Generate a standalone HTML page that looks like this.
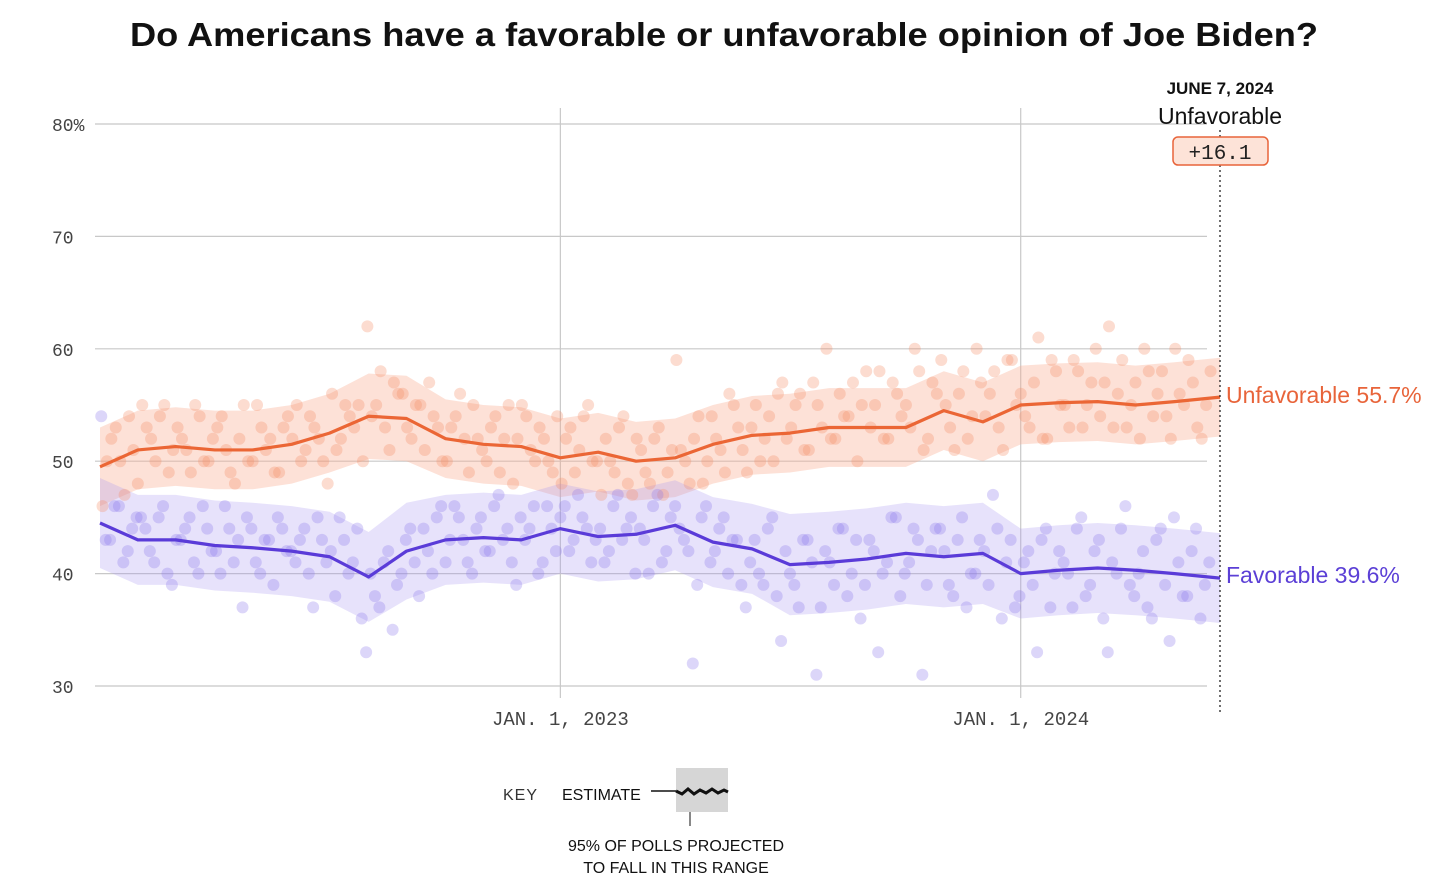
<!DOCTYPE html>
<html><head><meta charset="utf-8">
<style>
body{margin:0;background:#fff;width:1456px;height:891px;overflow:hidden;font-family:"Liberation Sans",sans-serif;}
svg{display:block}
</style></head>
<body>
<svg id="chart" width="1456" height="891" viewBox="0 0 1456 891" xmlns="http://www.w3.org/2000/svg">
<text x="724" y="46" text-anchor="middle" font-size="33" font-weight="bold" fill="#111" textLength="1188" lengthAdjust="spacingAndGlyphs">Do Americans have a favorable or unfavorable opinion of Joe Biden?</text>
<g id="grid"></g>
<g id="bands"></g>
<g id="dots"></g>
<g id="lines"></g>
<g id="ann">
<line x1="1220" y1="130" x2="1220" y2="712" stroke="#222" stroke-width="1.3" stroke-dasharray="2,3"/>
<text x="1220" y="94" text-anchor="middle" font-size="17" font-weight="bold" fill="#111">JUNE 7, 2024</text>
<text x="1220" y="124" text-anchor="middle" font-size="23" fill="#111">Unfavorable</text>
<rect x="1173" y="137" width="95" height="28" rx="5" fill="#fde3d8" stroke="#e8643a" stroke-width="1.5"/>
<text x="1220" y="159" text-anchor="middle" font-size="21" font-family="Liberation Mono,monospace" fill="#222">+16.1</text>
<text x="1226" y="403" font-size="23" fill="#e8643a">Unfavorable 55.7%</text>
<text x="1226" y="583" font-size="23" fill="#5b3fd6">Favorable 39.6%</text>
</g>
<g>
<text x="503" y="800" font-size="16" fill="#333" letter-spacing="1">KEY</text>
<text x="562" y="800" font-size="16" fill="#111">ESTIMATE</text>
<line x1="651" y1="791" x2="676" y2="791" stroke="#111" stroke-width="1.5"/>
<rect x="676" y="768" width="52" height="44" fill="#ccc" opacity="0.8"/>
<polyline points="676,791 682,794 688,789 694,794 700,790 706,793 712,789 718,793 724,790 728,792" fill="none" stroke="#111" stroke-width="3"/>
<line x1="690" y1="812" x2="690" y2="826" stroke="#111" stroke-width="1"/>
<text x="676" y="851" text-anchor="middle" font-size="16" fill="#111">95% OF POLLS PROJECTED</text>
<text x="676" y="873" text-anchor="middle" font-size="16" fill="#111">TO FALL IN THIS RANGE</text>
</g>
</svg>
<script>
const yTicks=[30,40,50,60,70,80];
const xTickDays=[365,730];
const xTickLabels=["JAN. 1, 2023","JAN. 1, 2024"];
const estDays=[0,30,60,91,121,152,182,213,243,274,304,334,365,395,425,456,486,517,547,578,608,639,669,700,730,760,791,821,852,888];
const unfavEst=[49.5,51,51.3,51,51,51.5,52.5,54,53.8,52,51.5,51.3,50.3,50.8,50,50.3,51.5,52.3,52.5,53,53,53,54.5,53.5,55,55.2,55.3,55,55.3,55.7];
const favEst=[44.5,43,43,42.5,42.3,42,41.5,39.7,42,43,43.2,43,44,43.3,43.5,44.3,42.8,42.2,40.8,41,41.3,41.8,41.5,41.8,40,40.3,40.5,40.3,40,39.6];
const unfavBandHalf=[3.5,3.5,3.5,3.5,3.5,3.5,3.5,3.8,3.8,3.5,3.5,3.5,3.5,3.5,3.5,3.5,3.5,3.5,3.5,3.5,3.5,3.5,3.5,3.5,3.5,3.5,3.5,3.5,3.5,3.5];
const favBandHalf=[4,4,4,4,4,4,4,4,4.3,4,4,4,4,4,4,4,4,4,4.5,4.5,4.5,4.5,4.5,4.5,4,4,4,4,4,4];
const unfavPolls=[46,52,50,54,48,53,50,55,51,52,49,54,50,53,51,48,55,50,53,52,49,54,55,51,53,50,56,52,54,55,62,55,53,57,56,52,55,57,53,50,54,52,55,51,53,49,55,52,54,50,52,49,48,53,51,55,50,52,49,54,47,51,48,53,49,59,50,52,48,54,51,56,53,49,55,52,50,57,53,56,51,55,60,52,54,57,55,53,58,52,56,55,60,51,57,59,53,56,52,60,54,58,51,59,56,53,61,52,58,55,59,53,57,54,62,56,53,57,60,54,58,52,56,59,53,55];
const unfavPolls2=[50,53,47,51,55,52,54,49,53,51,55,50,52,54,49,52,50,55,51,49,53,52,50,54,52,48,51,55,53,50,54,58,51,56,53,55,51,54,50,53,56,49,52,50,54,52,48,55,51,53,50,54,52,49,54,50,47,50,53,48,52,49,52,47,51,51,48,54,50,52,49,55,51,53,50,54,56,52,55,51,57,53,52,56,54,50,58,55,52,57,54,53,58,52,56,55,51,58,54,57,56,53,59,55,54,57,52,59,55,53,58,55,60,57,53,59,55,52,58,56,54,60,55,57,52,58];
const favPolls=[54,43,46,42,45,44,41,46,39,43,45,40,44,42,46,41,37,44,40,43,45,42,41,44,37,43,42,45,40,44,33,38,41,35,40,44,38,42,45,41,46,43,40,45,42,47,44,39,43,46,41,44,45,42,47,44,43,41,46,43,45,44,40,47,42,46,43,32,45,41,44,40,43,37,43,39,45,34,40,37,43,31,42,39,44,40,36,43,33,41,45,40,44,31,42,44,39,43,37,40,42,47,36,43,38,42,33,44,40,41,37,45,39,43,33,40,46,38,42,36,44,34,41,38,44,39];
const favPolls2=[43,46,41,44,45,42,45,40,43,44,41,46,42,40,44,43,45,41,43,39,44,42,43,40,45,41,38,43,41,36,40,37,42,39,43,41,44,40,46,43,45,41,44,42,46,43,41,45,44,40,46,42,46,43,45,41,44,42,47,44,40,43,46,41,45,44,42,39,46,42,45,43,39,41,40,44,38,42,39,43,41,37,41,44,38,43,39,42,40,45,38,41,43,39,44,42,38,45,40,43,39,44,41,37,41,39,43,37,42,40,44,38,42,36,41,44,39,40,37,43,39,45,38,42,36,41];
const pollStep=7;
const NS="http://www.w3.org/2000/svg";
const x=d=>100+d*(1120/888);
const y=v=>686-(v-30)*11.24;
function mk(tag,attrs,parent){const e=document.createElementNS(NS,tag);for(const k in attrs)e.setAttribute(k,attrs[k]);parent.appendChild(e);return e;}
const grid=document.getElementById('grid');
yTicks.forEach(t=>{
 const l=mk('line',{x1:95,x2:1207,y1:y(t),y2:y(t),stroke:'#c8c8c8','stroke-width':1.2},grid);
 
 
 const tx=mk('text',{x:52,y:y(t)+7,'font-size':18,'font-family':'Liberation Mono,monospace',fill:'#444'},grid);
 tx.textContent=t===80?'80%':String(t);
 
 
});
xTickDays.forEach((d,i)=>{
 const l=mk('line',{x1:x(d),x2:x(d),y1:108,y2:698,stroke:'#c8c8c8','stroke-width':1.2},grid);
 
 
 const tx=mk('text',{x:x(d),y:725,'text-anchor':'middle','font-size':19,'font-family':'Liberation Mono,monospace',fill:'#444'},grid);
 tx.textContent=xTickLabels[i];
 
 
});
function band(est,half,color,name){
 let up=est.map((v,i)=>x(estDays[i])+','+y(v+half[i]));
 let dn=est.map((v,i)=>x(estDays[i])+','+y(v-half[i])).reverse();
 const p=mk('polygon',{points:up.concat(dn).join(' '),fill:color},document.getElementById('bands'));
 
 
}
band(unfavEst,unfavBandHalf,'rgba(250,170,140,0.35)','unfavorable-band');
band(favEst,favBandHalf,'rgba(170,150,240,0.28)','favorable-band');
const dots=document.getElementById('dots');
function drawPolls(arr,off,fill,name){
 arr.forEach((v,i)=>{
  const c=mk('circle',{cx:x(i*pollStep+off),cy:y(v),r:6,fill:fill},dots);
  
  
 });
}
drawPolls(unfavPolls,2,'rgba(245,140,100,0.3)','unfavorable-poll');
drawPolls(unfavPolls2,5.5,'rgba(245,140,100,0.3)','unfavorable-poll');
drawPolls(favPolls,1,'rgba(140,120,235,0.3)','favorable-poll');
drawPolls(favPolls2,4.5,'rgba(140,120,235,0.3)','favorable-poll');
function line(est,color,name){
 const p=mk('polyline',{points:est.map((v,i)=>x(estDays[i])+','+y(v)).join(' '),fill:'none',stroke:color,'stroke-width':3.2,'stroke-linejoin':'round'},document.getElementById('lines'));
 
 
}
line(unfavEst,'#eb6635','unfavorable-estimate-line');
line(favEst,'#5a3bd8','favorable-estimate-line');
</script>
</body></html>
